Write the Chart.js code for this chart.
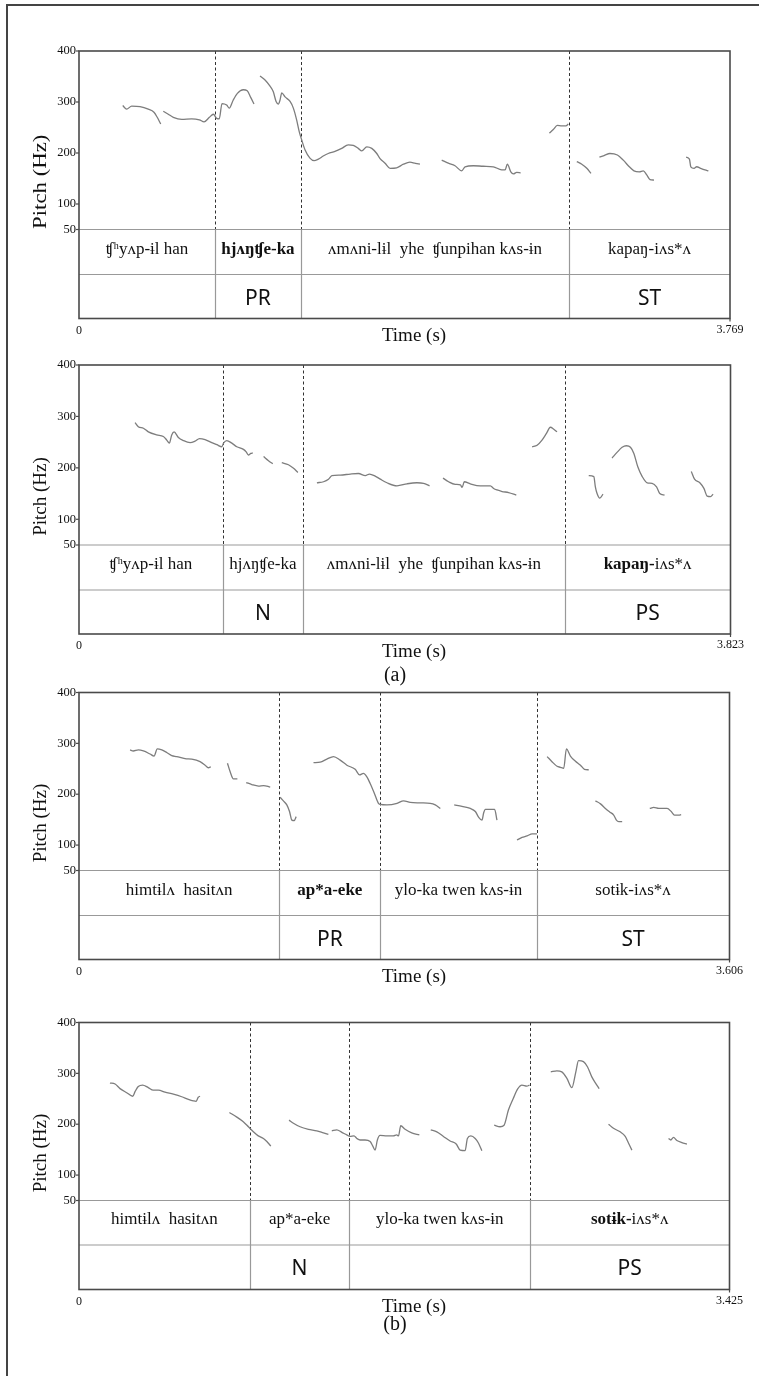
<!DOCTYPE html>
<html lang="en">
<head>
    <meta charset="UTF-8">
    <title>Pitch contours by focus condition</title>
    <script src="https://cdn.jsdelivr.net/npm/chart.js"></script>
    <style>
        body {
            margin: 0;
            padding: 0;
            background: #fff;
        }
        #page {
            position: relative;
            width: 759px;
            height: 1376px;
            overflow: hidden;
            background: #fff;
        }
        #frame {
            position: absolute;
            left: 6px;
            top: 4px;
            width: 800px;
            height: 1400px;
            border-left: 2px solid #444;
            border-top: 2px solid #444;
        }
        canvas {
            position: absolute;
            left: 0;
            top: 0;
        }
    </style>
</head>
<body>
<div id="page">
    <div id="frame"></div>
    <canvas id="panel1" width="759" height="1376"></canvas>
    <canvas id="panel2" width="759" height="1376"></canvas>
    <canvas id="panel3" width="759" height="1376"></canvas>
    <canvas id="panel4" width="759" height="1376"></canvas>
</div>

<script>
    // Y-axis ticks (Hz), shared by all four panels
    const pitchTicks = [400, 300, 200, 100, 50];

    // ---- (a) top: PR / ST ----
    const p1End = 3.769;
    const p1Bounds = [0.787, 1.285, 2.837];
    const p1Words = [['', 'ʧʰyʌp-ɨl han'], ['hjʌŋʧe-ka', ''], ['', 'ʌmʌni-lɨl  yhe  ʧunpihan kʌs-ɨn'], ['', 'kapaŋ-iʌs*ʌ']];
    const p1Tags = ['', 'PR', '', 'ST'];
    const p1Time = [
        [0.253, 0.276, 0.305, 0.353, 0.401, 0.434, 0.453, 0.473],
        [0.488, 0.517, 0.546, 0.595, 0.652, 0.697, 0.724, 0.755, 0.778, 0.797, 0.812, 0.828, 0.855, 0.870, 0.893, 0.917, 0.951, 0.974, 0.994, 1.013],
        [1.048, 1.077, 1.106, 1.125, 1.141, 1.154, 1.164, 1.174, 1.193, 1.222, 1.241, 1.260, 1.275, 1.289, 1.309, 1.337, 1.361, 1.386, 1.414, 1.443, 1.482, 1.521, 1.559, 1.588, 1.617, 1.637, 1.666, 1.695, 1.724, 1.743, 1.772, 1.801, 1.839, 1.878, 1.916, 1.945, 1.974],
        [2.100, 2.138, 2.177, 2.216, 2.235, 2.283, 2.341, 2.399, 2.447, 2.467, 2.480, 2.500, 2.515, 2.534, 2.557],
        [2.723, 2.746, 2.769, 2.795, 2.819, 2.833],
        [2.882, 2.911, 2.940, 2.964],
        [3.013, 3.040, 3.074, 3.117, 3.151, 3.186, 3.213, 3.244, 3.267, 3.287, 3.306, 3.329],
        [3.515, 3.534, 3.542, 3.561, 3.576, 3.599, 3.624, 3.644]
    ];
    const p1Pitch = [
        [293, 286, 292, 291, 286, 280, 270, 257],
        [282, 276, 270, 266, 267, 265, 261, 270, 276, 268, 267, 297, 294, 288, 304, 317, 324, 322, 309, 296],
        [351, 343, 331, 320, 301, 296, 304, 318, 310, 301, 288, 265, 242, 226, 206, 190, 185, 188, 194, 199, 203, 209, 216, 215, 209, 204, 212, 209, 199, 189, 180, 170, 171, 178, 182, 180, 178],
        [186, 180, 175, 165, 173, 175, 174, 173, 167, 167, 178, 163, 159, 162, 161],
        [239, 246, 254, 253, 253, 257],
        [183, 178, 170, 160],
        [192, 195, 199, 196, 186, 173, 165, 163, 165, 157, 148, 147],
        [192, 188, 173, 170, 173, 170, 167, 165]
    ];

    // ---- (a) bottom: N / PS ----
    const p2End = 3.823;
    const p2Bounds = [0.844, 1.314, 2.850];
    const p2Words = [['', 'ʧʰyʌp-ɨl han'], ['', 'hjʌŋʧe-ka'], ['', 'ʌmʌni-lɨl  yhe  ʧunpihan kʌs-ɨn'], ['kapaŋ-', 'iʌs*ʌ']];
    const p2Tags = ['', 'N', '', 'PS'];
    const p2Time = [
        [0.329, 0.348, 0.378, 0.407, 0.456, 0.495, 0.515, 0.530, 0.544, 0.558, 0.583, 0.613, 0.652, 0.681, 0.707, 0.740, 0.779, 0.809, 0.838, 0.848, 0.867, 0.897, 0.926, 0.965, 0.981, 0.994, 1.008, 1.020],
        [1.083, 1.112, 1.137],
        [1.190, 1.229, 1.259, 1.284],
        [1.396, 1.435, 1.464, 1.484, 1.533, 1.592, 1.640, 1.680, 1.705, 1.738, 1.768, 1.807, 1.866, 1.925, 1.983, 2.022, 2.057],
        [2.136, 2.169, 2.208, 2.238, 2.248, 2.261, 2.296, 2.355, 2.414, 2.433, 2.453, 2.483, 2.521, 2.566],
        [2.659, 2.688, 2.717, 2.743, 2.766, 2.786, 2.805],
        [2.991, 3.021, 3.030, 3.040, 3.056, 3.075],
        [3.128, 3.157, 3.187, 3.212, 3.236, 3.256, 3.279, 3.305, 3.334, 3.363, 3.389, 3.408, 3.436],
        [3.593, 3.612, 3.643, 3.667, 3.686, 3.706, 3.721]
    ];
    const p2Pitch = [
        [288, 280, 277, 270, 264, 261, 254, 248, 264, 270, 259, 253, 249, 252, 257, 255, 249, 245, 241, 248, 253, 248, 241, 236, 231, 225, 228, 229],
        [222, 214, 208],
        [210, 206, 199, 191],
        [171, 173, 178, 185, 186, 188, 189, 185, 188, 184, 178, 171, 165, 169, 171, 170, 165],
        [180, 173, 168, 167, 162, 173, 169, 165, 165, 160, 157, 154, 152, 147],
        [241, 244, 254, 267, 279, 275, 270],
        [185, 183, 163, 150, 141, 149],
        [219, 230, 240, 243, 240, 228, 202, 183, 171, 170, 163, 150, 147],
        [193, 178, 171, 160, 145, 144, 149]
    ];

    // ---- (b) top: PR / ST ----
    const p3End = 3.606;
    const p3Bounds = [1.111, 1.670, 2.537];
    const p3Words = [['', 'himtɨlʌ  hasitʌn'], ['ap*a-eke', ''], ['', 'ylo-ka twen kʌs-ɨn'], ['', 'sotɨk-iʌs*ʌ']];
    const p3Tags = ['', 'PR', '', 'ST'];
    const p3Time = [
        [0.283, 0.301, 0.329, 0.357, 0.394, 0.416, 0.434, 0.459, 0.486, 0.514, 0.542, 0.588, 0.625, 0.671, 0.699, 0.717, 0.731],
        [0.823, 0.838, 0.856, 0.878],
        [0.927, 0.958, 0.995, 1.023, 1.060],
        [1.115, 1.133, 1.152, 1.167, 1.180, 1.193, 1.204],
        [1.300, 1.337, 1.374, 1.411, 1.448, 1.485, 1.531, 1.555, 1.577, 1.596, 1.614, 1.637, 1.660, 1.670, 1.707, 1.763, 1.799, 1.836, 1.892, 1.947, 1.975, 2.003],
        [2.080, 2.123, 2.169, 2.197, 2.215, 2.234, 2.243, 2.253, 2.280, 2.304, 2.317],
        [2.428, 2.456, 2.484, 2.512, 2.539],
        [2.595, 2.622, 2.650, 2.669, 2.687, 2.702, 2.724, 2.752, 2.780, 2.802, 2.826],
        [2.863, 2.891, 2.918, 2.942, 2.964, 2.979, 2.992, 3.011],
        [3.164, 3.186, 3.214, 3.260, 3.283, 3.301, 3.325, 3.338]
    ];
    const p3Pitch = [
        [287, 285, 287, 285, 279, 275, 289, 287, 282, 276, 274, 270, 269, 264, 257, 252, 254],
        [261, 244, 230, 230],
        [223, 219, 216, 217, 214],
        [194, 187, 179, 166, 149, 148, 156],
        [262, 263, 269, 274, 267, 257, 249, 238, 241, 234, 221, 202, 182, 180, 179, 182, 187, 184, 183, 182, 179, 172],
        [179, 176, 172, 166, 155, 149, 163, 170, 170, 170, 149],
        [110, 115, 118, 122, 122],
        [274, 264, 255, 253, 251, 289, 275, 265, 257, 249, 248],
        [187, 181, 172, 165, 159, 149, 146, 146],
        [172, 174, 172, 172, 166, 159, 159, 160]
    ];

    // ---- (b) bottom: N / PS ----
    const p4End = 3.425;
    const p4Bounds = [0.899, 1.424, 2.374];
    const p4Words = [['', 'himtɨlʌ  hasitʌn'], ['', 'ap*a-eke'], ['', 'ylo-ka twen kʌs-ɨn'], ['sotɨk-', 'iʌs*ʌ']];
    const p4Tags = ['', 'N', '', 'PS'];
    const p4Time = [
        [0.163, 0.190, 0.216, 0.251, 0.283, 0.295, 0.312, 0.335, 0.365, 0.391, 0.418, 0.453, 0.497, 0.541, 0.576, 0.602, 0.616, 0.628, 0.637],
        [0.792, 0.831, 0.865, 0.892, 0.918, 0.944, 0.971, 0.989, 1.010],
        [1.106, 1.129, 1.164, 1.208, 1.252, 1.287, 1.313],
        [1.331, 1.357, 1.384, 1.410, 1.427, 1.448, 1.463, 1.480, 1.506, 1.533, 1.547, 1.559, 1.571, 1.585, 1.621, 1.655, 1.673, 1.682, 1.694, 1.717, 1.752, 1.792],
        [1.852, 1.884, 1.919, 1.954, 1.986, 2.007, 2.033, 2.045, 2.063, 2.086, 2.103, 2.121],
        [2.186, 2.217, 2.238, 2.261, 2.287, 2.309, 2.332, 2.358, 2.372],
        [2.484, 2.516, 2.542, 2.569, 2.595, 2.616, 2.630, 2.656, 2.677, 2.700, 2.723, 2.739],
        [2.788, 2.814, 2.849, 2.876, 2.893, 2.911],
        [3.104, 3.116, 3.130, 3.148, 3.174, 3.201]
    ];
    const p4Pitch = [
        [281, 279, 270, 262, 255, 264, 274, 277, 272, 267, 267, 263, 259, 254, 249, 246, 245, 253, 255],
        [223, 214, 205, 195, 185, 177, 172, 166, 157],
        [208, 202, 195, 190, 187, 183, 180],
        [187, 189, 184, 179, 176, 177, 172, 169, 169, 166, 157, 149, 169, 178, 177, 177, 179, 177, 197, 190, 183, 179],
        [189, 185, 176, 167, 161, 149, 148, 172, 177, 172, 163, 148],
        [198, 195, 198, 228, 251, 269, 277, 275, 277],
        [303, 305, 303, 290, 272, 303, 325, 323, 313, 293, 279, 270],
        [200, 192, 185, 176, 163, 149],
        [172, 169, 174, 168, 164, 161]
    ];

    // Page layout of each panel (pixels): pitch area top/bottom, tier lines, right edge
    const W = 759, H = 1376, LEFT = 79;
    const layouts = [
        { top: 51, pitchBottom: 229.5, tierMid: 274.5, bottom: 318.5, right: 730, labelStretch: 1.2, caption: null },
        { top: 365, pitchBottom: 545, tierMid: 590, bottom: 634, right: 730.5, labelStretch: 1, caption: { text: '(a)', y: 676 } },
        { top: 692.5, pitchBottom: 870.5, tierMid: 915.5, bottom: 959.5, right: 729.5, labelStretch: 1, caption: null },
        { top: 1022.5, pitchBottom: 1200.5, tierMid: 1245, bottom: 1289.5, right: 729.5, labelStretch: 1, caption: { text: '(b)', y: 1325 } }
    ];

    const SERIF = "'Liberation Serif', 'Times New Roman', 'DejaVu Serif', serif";
    const SANS = "'Noto Sans', 'Open Sans', sans-serif";

    // Draws the Praat-style frame, boundaries, text tiers and axis labels
    const textGridPlugin = {
        id: 'textGrid',
        beforeDatasetsDraw(chart, args, opts) {
            const { ctx } = chart;
            const x = chart.scales.x;
            const L = opts.layout;
            ctx.save();
            // dashed boundary lines through the pitch area
            ctx.strokeStyle = '#333';
            ctx.lineWidth = 1;
            ctx.setLineDash([3, 2.5]);
            opts.bounds.forEach(b => {
                const px = Math.round(x.getPixelForValue(b)) + 0.5;
                ctx.beginPath();
                ctx.moveTo(px, L.top);
                ctx.lineTo(px, L.pitchBottom);
                ctx.stroke();
            });
            ctx.restore();
        },
        afterDraw(chart, args, opts) {
            const { ctx } = chart;
            const x = chart.scales.x, y = chart.scales.y;
            const L = opts.layout;
            const left = x.getPixelForValue(0);
            const right = x.getPixelForValue(opts.end);
            ctx.save();

            // tier grid lines (light)
            ctx.strokeStyle = '#999';
            ctx.lineWidth = 1.2;
            [y.getPixelForValue(50), L.tierMid].forEach(yy => {
                ctx.beginPath();
                ctx.moveTo(left, yy);
                ctx.lineTo(right, yy);
                ctx.stroke();
            });
            opts.bounds.forEach(b => {
                const px = Math.round(x.getPixelForValue(b)) + 0.5;
                ctx.beginPath();
                ctx.moveTo(px, L.pitchBottom);
                ctx.lineTo(px, L.bottom);
                ctx.stroke();
            });

            // outer frame (dark)
            ctx.strokeStyle = '#4a4a4a';
            ctx.lineWidth = 1.6;
            ctx.strokeRect(left, y.getPixelForValue(400), right - left, L.bottom - L.top);

            // y ticks
            ctx.fillStyle = '#111';
            ctx.font = '12.5px ' + SERIF;
            ctx.textAlign = 'right';
            ctx.textBaseline = 'middle';
            ctx.lineWidth = 1.2;
            pitchTicks.forEach(v => {
                const py = y.getPixelForValue(v);
                ctx.beginPath();
                ctx.moveTo(left - 3, py);
                ctx.lineTo(left, py);
                ctx.stroke();
                ctx.fillText(String(v), left - 3, py);
            });

            // x end labels
            ctx.textAlign = 'center';
            ctx.beginPath();
            ctx.moveTo(right, L.bottom);
            ctx.lineTo(right, L.bottom + 3);
            ctx.stroke();
            ctx.font = '12px ' + SERIF;
            ctx.fillText('0', left, L.bottom + 12);
            ctx.fillText(opts.end.toFixed(3), right, L.bottom + 11);

            // axis titles
            ctx.font = '19px ' + SERIF;
            ctx.fillText('Time (s)', 414, L.bottom + 18);
            ctx.save();
            ctx.translate(41, (L.top + L.bottom) / 2 - 3);
            ctx.rotate(-Math.PI / 2);
            ctx.scale(L.labelStretch, 1);
            ctx.fillText('Pitch (Hz)', 0, 0);
            ctx.restore();
            if (L.caption) {
                ctx.font = '20px ' + SERIF;
                ctx.fillText(L.caption.text, 395, L.caption.y);
            }

            // word tier (bold part + regular part, centred in each interval)
            const edges = [0, ...opts.bounds, opts.end];
            const wordY = (y.getPixelForValue(50) + L.tierMid) / 2 + 1.5;
            ctx.textBaseline = 'alphabetic';
            ctx.textAlign = 'left';
            opts.words.forEach((w, i) => {
                const cx = (x.getPixelForValue(edges[i]) + x.getPixelForValue(edges[i + 1])) / 2;
                const boldFont = 'bold 17px ' + SERIF, normFont = '17px ' + SERIF;
                ctx.font = boldFont;
                const bw = ctx.measureText(w[0]).width;
                ctx.font = normFont;
                const nw = ctx.measureText(w[1]).width;
                const sx = cx - (bw + nw) / 2;
                ctx.font = boldFont;
                ctx.fillText(w[0], sx, wordY);
                ctx.font = normFont;
                ctx.fillText(w[1], sx + bw, wordY);
            });

            // focus tier labels
            const tagY = (L.tierMid + L.bottom) / 2 + 8;
            ctx.font = '21px ' + SANS;
            ctx.textAlign = 'center';
            opts.tags.forEach((t, i) => {
                if (!t) return;
                const cx = (x.getPixelForValue(edges[i]) + x.getPixelForValue(edges[i + 1])) / 2;
                ctx.fillText(t, cx, tagY);
            });
            ctx.restore();
        }
    };

    function makePanel(id, times, pitches, end, bounds, words, tags, L) {
        const datasets = times.map((seg, i) => ({
            data: seg.map((t, j) => ({ x: t, y: pitches[i][j] })),
            borderColor: '#7d7d7d',
            borderWidth: 1.3,
            pointRadius: 0,
            cubicInterpolationMode: 'monotone',
            fill: false
        }));
        return new Chart(document.getElementById(id), {
            type: 'line',
            data: { datasets: datasets },
            options: {
                responsive: false,
                animation: false,
                devicePixelRatio: 1,
                layout: {
                    padding: { left: LEFT, right: W - L.right, top: L.top, bottom: H - L.pitchBottom }
                },
                scales: {
                    x: { type: 'linear', min: 0, max: end, display: false },
                    y: { type: 'linear', min: 50, max: 400, display: false }
                },
                plugins: {
                    legend: { display: false },
                    tooltip: { enabled: false },
                    textGrid: { layout: L, end: end, bounds: bounds, words: words, tags: tags }
                }
            },
            plugins: [textGridPlugin]
        });
    }

    makePanel('panel1', p1Time, p1Pitch, p1End, p1Bounds, p1Words, p1Tags, layouts[0]);
    makePanel('panel2', p2Time, p2Pitch, p2End, p2Bounds, p2Words, p2Tags, layouts[1]);
    makePanel('panel3', p3Time, p3Pitch, p3End, p3Bounds, p3Words, p3Tags, layouts[2]);
    makePanel('panel4', p4Time, p4Pitch, p4End, p4Bounds, p4Words, p4Tags, layouts[3]);
</script>
</body>
</html>
